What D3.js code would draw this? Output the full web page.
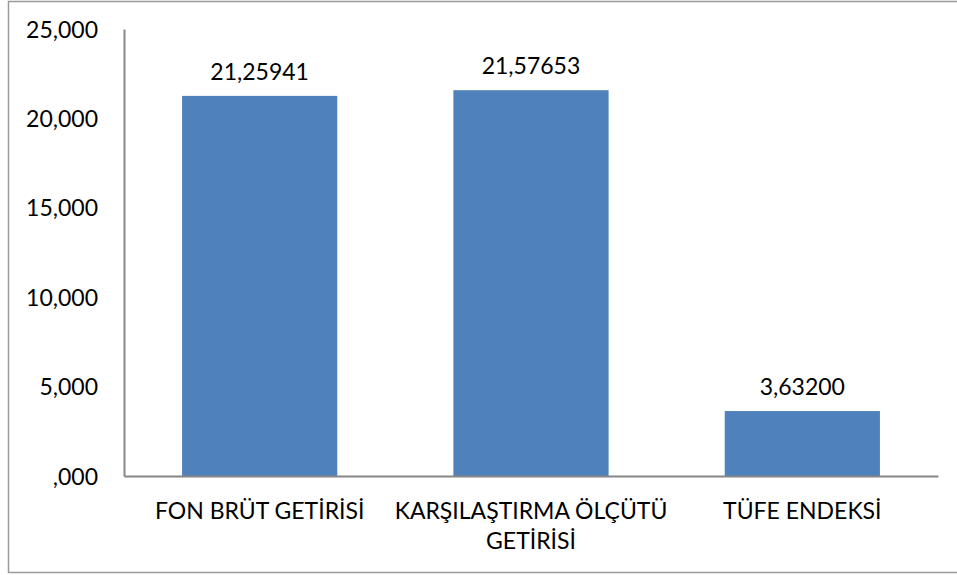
<!DOCTYPE html>
<html>
<head>
<meta charset="utf-8">
<script src="https://cdn.jsdelivr.net/npm/d3@7"></script>
<style>
  body { margin: 0; background: #fff; }
  svg text { font-family: Lato, "Open Sans", sans-serif; fill: #000; }
</style>
</head>
<body>
<div id="chart"></div>
<script>
// Chart data
const categories = ["FON BRÜT GETİRİSİ", "KARŞILAŞTIRMA ÖLÇÜTÜ GETİRİSİ", "TÜFE ENDEKSİ"];
const categoryLines = [["FON BRÜT GETİRİSİ"], ["KARŞILAŞTIRMA ÖLÇÜTÜ", "GETİRİSİ"], ["TÜFE ENDEKSİ"]];
const values = [21.25941, 21.57653, 3.632];
const valueLabels = ["21,25941", "21,57653", "3,63200"];
const yTicks = [0, 5, 10, 15, 20, 25];
const yTickLabels = [",000", "5,000", "10,000", "15,000", "20,000", "25,000"];

const W = 957, H = 575;
const margin = { top: 29, right: 19, bottom: 99, left: 124 },
    width = W - margin.left - margin.right,
    height = H - margin.top - margin.bottom;
const fontSize = "23px";

const root = d3.select("#chart")
    .append("svg")
    .attr("width", W)
    .attr("height", H);

// outer frame (right edge falls off the picture)
root.append("rect")
    .attr("x", 8.5).attr("y", 1.5)
    .attr("width", W + 10).attr("height", 571)
    .attr("fill", "none")
    .attr("stroke", "#9a9a9a")
    .attr("stroke-width", 1.5);

const svg = root.append("g")
    .attr("transform", `translate(${margin.left},${margin.top})`);

const x = d3.scaleBand()
    .domain(categories)
    .range([0, width])
    .padding(0);

const y = d3.scaleLinear()
    .domain([0, 25])
    .range([height, 0]);

const barW = x.bandwidth() * 0.572;

// bars
svg.selectAll("rect.bar")
    .data(values)
    .enter()
    .append("rect")
    .attr("class", "bar")
    .attr("x", (d, i) => x(categories[i]) + (x.bandwidth() - barW) / 2)
    .attr("y", d => y(d))
    .attr("width", barW)
    .attr("height", d => height - y(d))
    .attr("fill", "#4f81bd");

// value labels
svg.selectAll("text.val")
    .data(values)
    .enter()
    .append("text")
    .attr("class", "val")
    .attr("x", (d, i) => x(categories[i]) + x.bandwidth() / 2)
    .attr("y", d => y(d) - 16)
    .attr("text-anchor", "middle")
    .style("font-size", fontSize)
    .text((d, i) => valueLabels[i]);

// y axis
const yAxis = svg.append("g")
    .call(d3.axisLeft(y).tickValues(yTicks).tickSize(0).tickPadding(26)
        .tickFormat((d, i) => yTickLabels[i]));
yAxis.select(".domain").attr("stroke", "#868686").attr("stroke-width", 2);
yAxis.selectAll("text").style("font-size", fontSize).attr("dy", "0.35em");

// x axis
const xAxis = svg.append("g")
    .attr("transform", `translate(0,${height})`)
    .call(d3.axisBottom(x).tickSize(0).tickFormat(""));
xAxis.select(".domain").attr("stroke", "#868686").attr("stroke-width", 2);

// category labels, wrapped as in the original
categoryLines.forEach((lines, i) => {
    const t = svg.append("text")
        .attr("x", x(categories[i]) + x.bandwidth() / 2)
        .attr("y", height + 43)
        .attr("text-anchor", "middle")
        .style("font-size", fontSize);
    lines.forEach((l, j) => {
        t.append("tspan")
            .attr("x", x(categories[i]) + x.bandwidth() / 2)
            .attr("dy", j === 0 ? 0 : 30)
            .text(l);
    });
});
</script>
</body>
</html>
